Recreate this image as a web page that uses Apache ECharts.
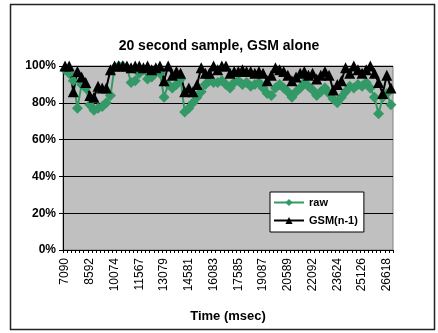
<!DOCTYPE html>
<html>
<head>
<meta charset="utf-8">
<script src="https://cdn.jsdelivr.net/npm/echarts@6/dist/echarts.min.js"></script>
<style>
  html, body { margin: 0; padding: 0; background: #fff; }
  #chart { width: 438px; height: 333px; }
</style>
</head>
<body>
<div id="chart"></div>
<script>
var myChart = echarts.init(document.getElementById('chart'));

// time of each sample (msec)
var timeCats = [
  7090, 7340, 7590, 7841, 8091, 8341,
  8592, 8839, 9086, 9333, 9580, 9827,
  10074, 10323, 10572, 10821, 11070, 11319,
  11567, 11819, 12071, 12323, 12575, 12827,
  13079, 13329, 13579, 13830, 14080, 14330,
  14581, 14831, 15081, 15332, 15582, 15832,
  16083, 16333, 16583, 16834, 17084, 17334,
  17585, 17835, 18085, 18336, 18586, 18836,
  19087, 19337, 19587, 19838, 20088, 20338,
  20589, 20839, 21090, 21340, 21591, 21841,
  22092, 22347, 22602, 22858, 23113, 23368,
  23624, 23874, 24124, 24375, 24625, 24875,
  25126, 25375, 25623, 25872, 26120, 26369,
  26618, 26868
];

var rawVals = [
  98, 96, 92, 77, 90, 88, 79, 76, 77, 78,
  80, 84, 99, 100, 100, 99, 91, 92, 96, 98,
  93, 94, 97, 96, 83, 90, 88, 90, 93, 75,
  77, 80, 83, 86, 90, 92, 91, 91, 92, 90,
  88, 91, 92, 90, 91, 89, 90, 91, 88, 85,
  84, 88, 90, 88, 86, 83, 86, 88, 91, 89,
  87, 84, 86, 88, 85, 82, 80, 83, 86, 89,
  88, 90, 89, 91, 88, 83, 74, 83, 85, 79
];

var gsmVals = [
  100, 100, 86, 97, 94, 91, 84, 83, 89, 88,
  88, 98, 100, 100, 100, 100, 99, 100, 100, 99,
  100, 98, 99, 100, 92, 100, 95, 97, 96, 86,
  88, 86, 90, 99, 96, 96, 100, 98, 100, 100,
  96, 97, 97, 98, 97, 97, 96, 97, 96, 92,
  95, 99, 98, 97, 95, 92, 94, 96, 97, 95,
  96, 93, 95, 97, 95, 87, 90, 92, 99, 96,
  100, 98, 96, 98, 100, 96, 91, 85, 95, 88
];

var yTicks = [0, 20, 40, 60, 80, 100];

var font = 'Liberation Sans, Arial, sans-serif';

var option = {
  animation: false,
  backgroundColor: '#fff',
  textStyle: { fontFamily: font },
  title: {
    text: '20 second sample, GSM alone',
    left: 'center',
    top: 34,
    textStyle: { fontFamily: font, fontSize: 14, fontWeight: 'bold', color: '#000' }
  },
  graphic: [{
    type: 'rect',
    shape: { x: 10.5, y: 4.5, width: 424, height: 325 },
    style: { fill: 'none', stroke: '#222', lineWidth: 1.5 },
    silent: true
  }],
  legend: {
    orient: 'vertical',
    left: 270,
    top: 192,
    width: 92,
    backgroundColor: '#fff',
    borderColor: '#000',
    borderWidth: 1,
    borderRadius: 0,
    padding: [5, 6, 6, 3],
    itemWidth: 30,
    itemHeight: 9,
    itemGap: 7,
    textStyle: { fontFamily: font, fontSize: 11, fontWeight: 'bold', color: '#000' },
    data: ['raw', 'GSM(n-1)']
  },
  grid: {
    left: 63,
    right: 45,
    top: 66,
    bottom: 83,
    show: true,
    backgroundColor: '#c0c0c0',
    borderColor: '#808080',
    borderWidth: 1
  },
  xAxis: {
    type: 'category',
    data: timeCats,
    boundaryGap: true,
    name: 'Time (msec)',
    nameLocation: 'middle',
    nameGap: 60,
    nameTextStyle: { fontFamily: font, fontSize: 13, fontWeight: 'bold', color: '#000' },
    axisLine: { lineStyle: { color: '#000', width: 1 } },
    axisTick: { show: true, interval: 0, length: 3, lineStyle: { color: '#000' } },
    axisLabel: {
      interval: 5,
      rotate: 90,
      margin: 8,
      fontFamily: font,
      fontSize: 12,
      color: '#000'
    },
    splitLine: { show: false }
  },
  yAxis: {
    type: 'value',
    min: yTicks[0],
    max: yTicks[yTicks.length - 1],
    interval: yTicks[1] - yTicks[0],
    axisLine: { show: true, lineStyle: { color: '#000', width: 1 } },
    axisTick: { show: true, length: 4, lineStyle: { color: '#000' } },
    axisLabel: {
      formatter: '{value}%',
      margin: 7,
      fontFamily: font,
      fontSize: 12,
      fontWeight: 'bold',
      color: '#000'
    },
    splitLine: { show: true, lineStyle: { color: '#000', width: 1 } }
  },
  series: [{
    name: 'raw',
    type: 'line',
    data: rawVals,
    symbol: 'diamond',
    symbolSize: 11,
    showAllSymbol: true,
    itemStyle: { color: '#339966' },
    lineStyle: { color: '#339966', width: 2 }
  }, {
    name: 'GSM(n-1)',
    type: 'line',
    data: gsmVals,
    symbol: 'triangle',
    symbolSize: 11,
    showAllSymbol: true,
    itemStyle: { color: '#000' },
    lineStyle: { color: '#000', width: 2 }
  }]
};

myChart.setOption(option);
</script>
</body>
</html>
